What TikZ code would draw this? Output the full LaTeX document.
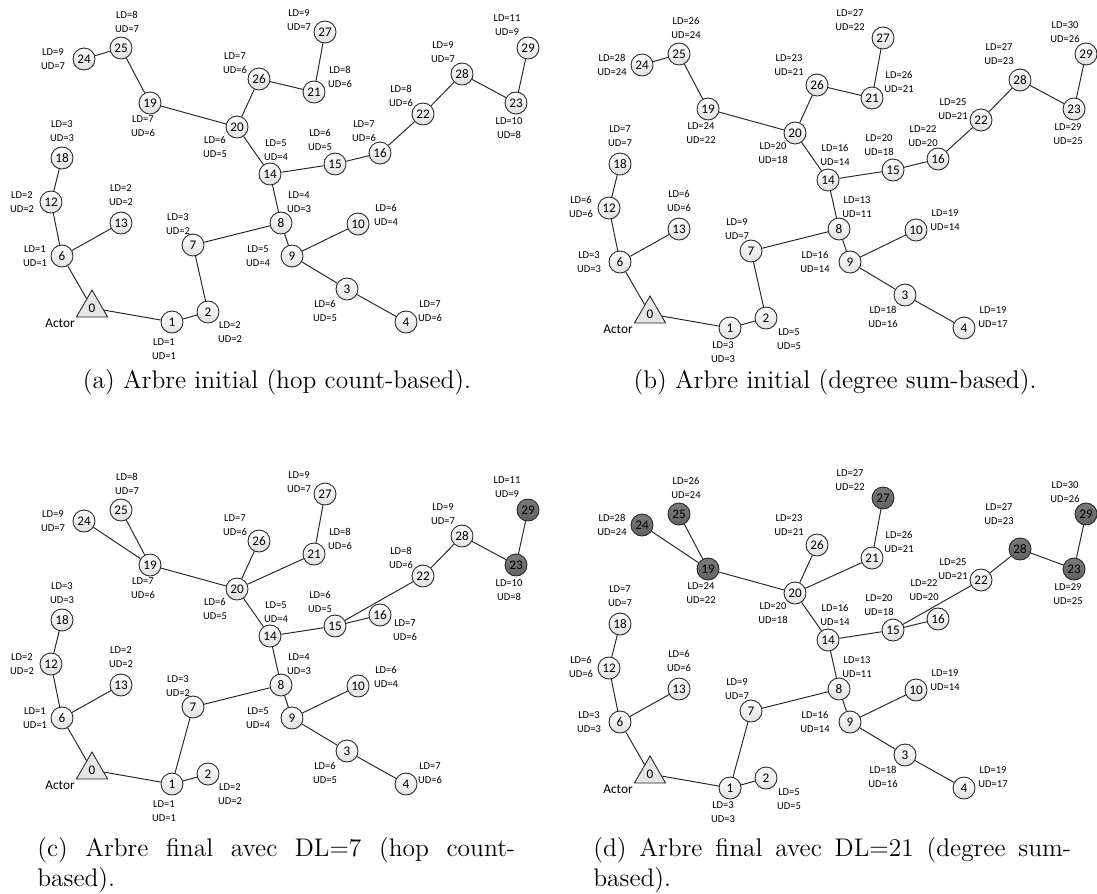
\documentclass[tikz,border=0pt]{standalone}
\usepackage{fontspec}
\newfontfamily\calib{Carlito}
\usetikzlibrary{shapes.geometric}

\begin{document}
\begin{tikzpicture}[x=0.02cm,y=-0.02cm,
  vtx/.style={circle,draw=black!85,line width=0.5pt,top color=white,bottom color=black!12,
    minimum size=0.44cm,inner sep=0pt,font=\calib\fontsize{7.5}{9}\selectfont},
  dark/.style={top color=black!52,bottom color=black!62},
  actor/.style={regular polygon,regular polygon sides=3,draw=black!85,line width=0.5pt,
    fill=black!10,minimum size=0.72cm,inner sep=0pt,font=\calib\fontsize{7.5}{9}\selectfont},
  dist/.style={align=center,inner sep=0pt,font=\calib\fontsize{6}{7.6}\selectfont},
  who/.style={inner sep=0pt,font=\calib\fontsize{7.6}{9}\selectfont},
  edge/.style={draw=black!85,line width=0.55pt},
  subcap/.style={inner sep=0pt,font=\fontsize{14.5}{17.4}\selectfont},
  % pruned nodes of the final trees
  c23/.style=dark, c29/.style=dark,
  d19/.style=dark, d23/.style=dark, d24/.style=dark, d25/.style=dark,
  d27/.style=dark, d28/.style={dark,yshift=-0.18cm}, d29/.style=dark]

\useasboundingbox (0,0) rectangle (1097,893);

% Nodes (same layout in the four trees)
\foreach \p/\dx/\dy in {a/0/0, b/558/6, c/0/462, d/558/466}
{
  \begin{scope}[shift={(\dx,\dy)}]
    \node[actor] (\p0) at (92,308) {0};
    \node[who] (\p actor) at (60,323) {Actor};
    \foreach \n/\x/\y in {1/172/322, 2/208/312, 3/347/289, 4/406/322, 6/62/256,
                          7/193/245, 8/281/223, 9/292/256, 10/358/224, 12/51/202,
                          13/121/223, 14/270/174, 15/335/164, 16/380/153, 18/62/158,
                          19/150/103, 20/237/127, 21/314/92, 22/423/114, 23/516/103,
                          24/84/59, 25/121/48, 26/259/79, 27/325/32, 28/462/74, 29/528/48}
      \node[vtx,\p\n/.try] (\p\n) at (\x,\y) {\n};
  \end{scope}
}

% Initial trees
\foreach \p in {a,b}
  \foreach \u/\v in {0/1, 0/6, 6/12, 12/18, 6/13, 1/2, 2/7, 7/8, 8/14, 14/20, 20/19,
                     19/25, 25/24, 20/26, 26/21, 21/27, 14/15, 15/16, 16/22, 22/28,
                     28/23, 23/29, 8/9, 9/10, 9/3, 3/4}
    \draw[edge] (\p\u) -- (\p\v);

% Final trees
\foreach \p in {c,d}
  \foreach \u/\v in {0/1, 0/6, 6/12, 12/18, 6/13, 1/2, 1/7, 7/8, 8/14, 14/20, 20/19,
                     19/25, 19/24, 20/26, 20/21, 21/27, 14/15, 15/16, 15/22, 22/28,
                     28/23, 23/29, 8/9, 9/10, 9/3, 3/4}
    \draw[edge] (\p\u) -- (\p\v);

% Hop count-based LD / UD
\foreach \p/\dx/\dy/\lx/\ly in {a/0/0/364/131, c/0/462/405/168}
{
  \begin{scope}[shift={(\dx,\dy)}]
    \foreach \n/\x/\y/\l/\u in {1/164/349/1/1, 2/230/332/2/2, 3/325/311/6/5, 4/430/311/7/6,
                                6/35/256/1/1, 7/178/224/3/2, 8/299/202/4/3, 9/258/256/5/4,
                                10/386/215/6/4, 12/22/202/2/2, 13/121/195/2/2, 14/276/150/5/4,
                                15/320/140/6/5, 18/62/131/3/3, 19/143/126/7/6, 20/215/147/6/5,
                                21/340/77/8/6, 22/401/96/8/6, 23/509/128/10/8, 24/53/59/9/7,
                                25/127/22/8/7, 26/235/63/7/6, 27/299/20/9/7, 28/443/52/9/7,
                                29/507/25/11/9}
      \node[dist] (\p l\n) at (\x,\y) {LD=\l\\UD=\u};
    \node[dist] (\p l16) at (\lx,\ly) {LD=7\\UD=6};
  \end{scope}
}

% Degree sum-based LD / UD
\foreach \p/\dx/\dy/\lx/\ly in {b/558/6/365/130, d/558/466/366/124}
{
  \begin{scope}[shift={(\dx,\dy)}]
    \foreach \n/\x/\y/\l/\u in {1/165/346/3/3, 2/231/333/5/5, 3/325/311/18/16, 4/435/311/19/17,
                                6/31/256/3/3, 7/179/223/9/7, 8/299/201/13/11, 9/257/256/16/14,
                                10/387/214/19/14, 12/23/201/6/6, 13/121/195/6/6, 14/277/149/16/14,
                                15/321/139/20/18, 18/62/130/7/7, 19/143/127/24/22, 20/215/147/20/18,
                                21/341/76/26/21, 22/395/103/25/21, 23/510/128/29/25, 24/54/59/28/24,
                                25/128/22/26/24, 26/231/59/23/21, 27/292/14/27/22, 28/441/48/27/23,
                                29/507/26/30/26}
      \node[dist] (\p l\n) at (\x,\y) {LD=\l\\UD=\u};
    \node[dist] (\p l16) at (\lx,\ly) {LD=22\\UD=20};
  \end{scope}
}

% Captions
\node[subcap,anchor=base] (capa) at (277,388) {(a) Arbre initial (hop count-based).};
\node[subcap,anchor=base] (capb) at (835,388) {(b) Arbre initial (degree sum-based).};
\node[subcap,anchor=base west,text width=9.56cm,align=justify] (capc) at (37,856)
  {(c) Arbre final avec DL=7 (hop count-\linebreak based).};
\node[subcap,anchor=base west,text width=9.56cm,align=justify] (capd) at (593,856)
  {(d) Arbre final avec DL=21 (degree sum-\linebreak based).};

\end{tikzpicture}
\end{document}
